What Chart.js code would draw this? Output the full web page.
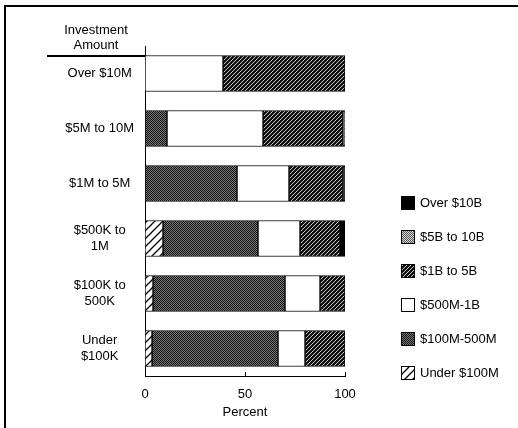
<!DOCTYPE html>
<html><head><meta charset="utf-8">
<script src="https://cdn.jsdelivr.net/npm/chart.js@4/dist/chart.umd.min.js"></script>
<style>html,body{margin:0;padding:0;background:#fff;}#wrap{width:518px;height:428px;position:relative;}</style>
</head><body><div id="wrap"><canvas id="c" width="518" height="428"></canvas></div>
<script>
const categories = ["Over $10M", "$5M to 10M", "$1M to 5M", ["$500K to", "1M"], ["$100K to", "500K"], ["Under", "$100K"]];
const seriesNames = ["Under $100M", "$100M-500M", "$500M-1B", "$1B to 5B", "$5B to 10B", "Over $10B"];
const under100M  = [0, 0, 0, 9, 4, 3.5];
const m100to500M = [0, 11, 46, 47.5, 66, 63];
const m500Mto1B  = [39, 48, 26, 21, 17.5, 13.5];
const b1to5B     = [61, 40, 27, 20, 12.5, 20];
const b5to10B    = [0, 1, 0, 0, 0, 0];
const over10B    = [0, 0, 1, 2.5, 0, 0];
const xTicks = [0, 50, 100];
const headerLines = ["Investment", "Amount"];
const xTitle = "Percent";

const FONT = '"Liberation Sans", Arial, Helvetica, sans-serif';

function tile(w, h, draw) {
  const c = document.createElement('canvas'); c.width = w; c.height = h;
  const g = c.getContext('2d'); draw(g, w, h);
  return document.getElementById('c').getContext('2d').createPattern(c, 'repeat');
}
const patDarkDots = tile(2, 2, (g) => { g.fillStyle = '#7a7a7a'; g.fillRect(0,0,2,2); g.fillStyle = '#111'; g.fillRect(0,0,1,1); g.fillRect(1,1,1,1); });
const patLightDots = tile(2, 2, (g) => { g.fillStyle = '#d8d8d8'; g.fillRect(0,0,2,2); g.fillStyle = '#555'; g.fillRect(0,0,1,1); g.fillRect(1,1,1,1); });
const patDarkHatch = tile(4, 4, (g) => { g.fillStyle = '#111'; g.fillRect(0,0,4,4); g.fillStyle = '#c8c8c8'; for (let i=0;i<4;i++) g.fillRect(3-i, i, 1, 1); });
const patLightHatch = tile(8, 8, (g) => { g.fillStyle = '#fff'; g.fillRect(0,0,8,8); g.strokeStyle = '#000'; g.lineWidth = 1.3;
  g.beginPath(); g.moveTo(-1,9); g.lineTo(9,-1); g.moveTo(-1,1); g.lineTo(1,-1); g.moveTo(7,9); g.lineTo(9,7); g.stroke(); });

const fills = [patLightHatch, patDarkDots, '#ffffff', patDarkHatch, patLightDots, '#000000'];
const values = [under100M, m100to500M, m500Mto1B, b1to5B, b5to10B, over10B];

const datasets = seriesNames.map((name, i) => ({
  label: name,
  data: values[i],
  backgroundColor: fills[i],
  borderColor: '#000',
  borderWidth: 1,
  borderSkipped: false,
  barThickness: 36
}));

const decor = {
  id: 'decor',
  afterDraw(chart) {
    const ctx = chart.ctx, ca = chart.chartArea, xs = chart.scales.x;
    ctx.save();
    ctx.strokeStyle = '#000'; ctx.fillStyle = '#000';
    // outer frame
    ctx.lineWidth = 2;
    ctx.beginPath(); ctx.moveTo(5, 430); ctx.lineTo(5, 6); ctx.lineTo(520, 6); ctx.stroke();
    // header
    ctx.font = '13px ' + FONT; ctx.textAlign = 'center'; ctx.textBaseline = 'middle';
    ctx.fillText(headerLines[0], 96, 30); ctx.fillText(headerLines[1], 96, 45);
    ctx.beginPath(); ctx.moveTo(47, 56); ctx.lineTo(ca.left, 56); ctx.stroke();
    // upward ticks
    ctx.lineWidth = 1;
    xTicks.forEach(v => { const x = Math.round(xs.getPixelForValue(v)) + 0.5;
      ctx.beginPath(); ctx.moveTo(x, ca.bottom); ctx.lineTo(x, ca.bottom - 4); ctx.stroke(); });
    // legend (reverse order)
    ctx.textAlign = 'left';
    const n = chart.data.datasets.length;
    for (let k = 0; k < n; k++) {
      const ds = chart.data.datasets[n - 1 - k];
      const cy = 203 + k * 34;
      ctx.fillStyle = ds.backgroundColor; ctx.fillRect(401, cy - 7, 14, 14);
      ctx.strokeRect(401.5, cy - 6.5, 13, 13);
      ctx.fillStyle = '#000'; ctx.fillText(ds.label, 420, cy);
    }
    ctx.restore();
  }
};

Chart.defaults.color = '#000';
Chart.defaults.font.family = FONT;
Chart.defaults.font.size = 13;

new Chart(document.getElementById('c'), {
  type: 'bar',
  data: { labels: categories, datasets },
  options: {
    indexAxis: 'y',
    responsive: false,
    animation: false,
    layout: { padding: { top: 46, right: 173, left: 0, bottom: 0 } },
    plugins: { legend: { display: false }, tooltip: { enabled: false } },
    scales: {
      x: {
        stacked: true, min: 0, max: 100,
        grid: { display: false, drawTicks: false },
        border: { display: true, color: '#000', width: 1 },
        ticks: { stepSize: 50, padding: 11, color: '#000', font: { size: 13 } },
        title: { display: true, text: xTitle, color: '#000', font: { size: 13 }, padding: { top: 2, bottom: 8 } },
        afterFit(s) { s.height = 52; }
      },
      y: {
        stacked: true,
        grid: { display: false, drawTicks: false },
        border: { display: true, color: '#000', width: 1 },
        ticks: { crossAlign: 'center', padding: 11, color: '#000', font: { size: 13 } },
        afterFit(s) { s.width = 145; }
      }
    }
  },
  plugins: [decor]
});
</script></body></html>
